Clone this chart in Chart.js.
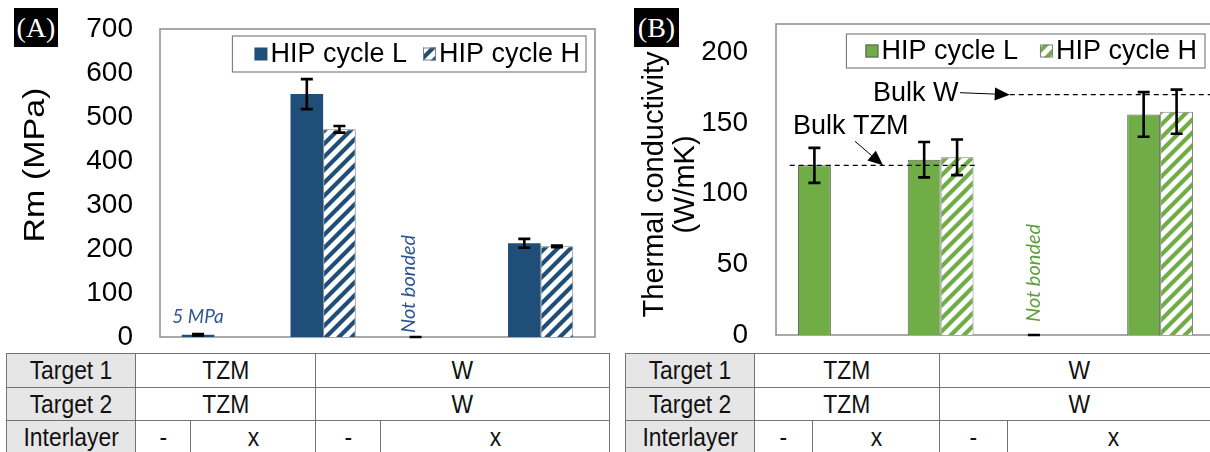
<!DOCTYPE html>
<html><head><meta charset="utf-8">
<script src="https://cdn.jsdelivr.net/npm/chart.js@4/dist/chart.umd.min.js"></script>
<style>
html,body{margin:0;padding:0;background:#fff;width:1210px;height:452px;overflow:hidden;position:relative;font-family:"Liberation Sans",Arial,sans-serif;}
.tag{position:absolute;top:8px;height:39px;background:#000;color:#fff;font-family:"Liberation Serif","Times New Roman",serif;font-size:28px;line-height:39px;text-align:center;}
canvas{position:absolute;top:0;}
table{position:absolute;top:353px;border-collapse:collapse;table-layout:fixed;}
tr{height:33.5px;}
td{border:1px solid #747474;padding:0;text-align:center;font-size:26px;line-height:26px;color:#111;white-space:nowrap;overflow:hidden;}
td span{display:inline-block;transform:scaleX(0.88);}
td.h{background:#E7E6E6;}
</style></head><body>
<div class="tag" style="left:14px;width:44px;">(A)</div>
<div class="tag" style="left:634px;width:45px;">(B)</div>
<canvas id="ca" width="610" height="350" style="left:0;width:610px;height:350px"></canvas>
<canvas id="cb" width="620" height="350" style="left:610px;width:620px;height:350px"></canvas>
<script>
// ---- data ----
const categories = ['TZM / -', 'TZM / x', 'W / -', 'W / x'];
const seriesNames = ['HIP cycle L', 'HIP cycle H'];
const rmL    = [5, 552, 0, 213];
const rmLErr = [1.5, 34, 0, 10];
const rmH    = [null, 472, null, 206];
const rmHErr = [null, 7.5, null, 2];
const tcL    = [120, 124, 0, 156];
const tcLErr = [12.4, 12.5, 0, 15.8];
const tcH    = [null, 125.7, null, 158];
const tcHErr = [null, 12.6, null, 15.6];
const rmTicks = [0, 100, 200, 300, 400, 500, 600, 700];
const tcTicks = [0, 50, 100, 150, 200];
const bulkTZM = 120;
const bulkW = 170;
const rowLabels = ['Target 1', 'Target 2', 'Interlayer'];
const target1 = ['TZM', 'W'];
const target2 = ['TZM', 'W'];
const interlayer = ['-', 'x', '-', 'x'];

const FONT = '"Liberation Sans", Arial, sans-serif';
const NOTE_FONT = 'Lato, "Open Sans", sans-serif';

function hatch(color){
  const s = 13, c = document.createElement('canvas'); c.width = s; c.height = s;
  const x = c.getContext('2d');
  x.fillStyle = '#fff'; x.fillRect(0,0,s,s);
  x.strokeStyle = color; x.lineWidth = 4.2; x.beginPath();
  x.moveTo(0,s); x.lineTo(s,0);
  x.moveTo(-s/2,s/2); x.lineTo(s/2,-s/2);
  x.moveTo(s/2,s*1.5); x.lineTo(s*1.5,s/2);
  x.stroke();
  return x.createPattern(c,'repeat');
}

const frame = {id:'frame', beforeDatasetsDraw(chart){
  const {ctx, chartArea:ca} = chart;
  ctx.save(); ctx.strokeStyle = '#8c8c8c'; ctx.lineWidth = 1.5;
  ctx.strokeRect(ca.left, ca.top, ca.right-ca.left, ca.bottom-ca.top);
  ctx.restore();
}};

const errorBars = {id:'errorBars', afterDatasetsDraw(chart){
  const {ctx} = chart; const y = chart.scales.y;
  ctx.save(); ctx.strokeStyle = '#000'; ctx.lineWidth = 2.6;
  chart.data.datasets.forEach((d, di) => {
    const meta = chart.getDatasetMeta(di);
    d.data.forEach((v, i) => {
      const e = d.errors[i];
      if (v == null || e == null) return;
      const x = meta.data[i].x;
      const yt = y.getPixelForValue(v + e), yb = y.getPixelForValue(v - e);
      ctx.beginPath();
      ctx.moveTo(x, yt); ctx.lineTo(x, yb);
      ctx.moveTo(x-6, yt); ctx.lineTo(x+6, yt);
      ctx.moveTo(x-6, yb); ctx.lineTo(x+6, yb);
      ctx.stroke();
    });
  });
  ctx.restore();
}};

const boxLegend = {id:'boxLegend', afterDraw(chart, args, o){
  const {ctx, chartArea:ca} = chart;
  ctx.save(); ctx.font = '27px ' + FONT;
  const sw = 13, ds = chart.data.datasets;
  let w = o.padL + o.padR;
  ds.forEach((d,i) => { w += sw + o.gapT + ctx.measureText(d.label).width; if (i) w += o.gapI; });
  const right = ca.right - o.dr, left = right - w, top = ca.top + o.dt, h = o.h;
  ctx.fillStyle = '#fff'; ctx.fillRect(left, top, w, h);
  ctx.strokeStyle = '#808080'; ctx.lineWidth = 1.2; ctx.strokeRect(left, top, w, h);
  let x = left + o.padL; const cy = top + h/2;
  ds.forEach((d,i) => {
    if (i) x += o.gapI;
    ctx.fillStyle = d.backgroundColor; ctx.fillRect(x, cy-6.5, sw, sw);
    if (d.borderWidth) { ctx.strokeStyle = d.borderColor; ctx.lineWidth = 1; ctx.strokeRect(x+.5, cy-6, sw-1, sw-1); }
    x += sw + o.gapT;
    ctx.fillStyle = '#000'; ctx.textBaseline = 'middle'; ctx.textAlign = 'left';
    ctx.fillText(d.label, x, cy + 1);
    x += ctx.measureText(d.label).width;
  });
  ctx.restore();
}};

const axisTitle = {id:'axisTitle', afterDraw(chart, args, o){
  const {ctx, chartArea:ca} = chart;
  ctx.save(); ctx.fillStyle = '#000'; ctx.font = o.size + 'px ' + FONT;
  ctx.textAlign = 'center'; ctx.textBaseline = 'middle';
  o.lines.forEach((t, i) => {
    ctx.save();
    ctx.translate(ca.left - o.dx + i*o.lh, (ca.top+ca.bottom)/2 + o.dy);
    ctx.rotate(-Math.PI/2);
    ctx.scale(1, o.sy);
    ctx.fillText(t, 0, 0);
    ctx.restore();
  });
  ctx.restore();
}};

const notes = {id:'notes', afterDatasetsDraw(chart, args, o){
  const {ctx} = chart; const y = chart.scales.y;
  const meta = chart.getDatasetMeta(0);
  ctx.save(); ctx.fillStyle = o.color;
  o.items.forEach(n => {
    const bx = meta.data[n.index].x;
    const base = y.getPixelForValue(0);
    ctx.font = 'italic ' + n.size + 'px ' + NOTE_FONT;
    if (n.rotate) {
      ctx.save(); ctx.translate(bx + n.dx, base - n.gap); ctx.rotate(-Math.PI/2);
      ctx.textAlign = 'left'; ctx.textBaseline = 'middle'; ctx.fillText(n.text, 0, 0);
      ctx.restore();
    } else {
      ctx.textAlign = 'center'; ctx.textBaseline = 'alphabetic';
      ctx.fillText(n.text, bx + n.dx, base - n.gap);
    }
  });
  ctx.restore();
}};

function arrow(ctx, x1, y1, x2, y2){
  const a = Math.atan2(y2-y1, x2-x1), L = 15, W = 6.5;
  const bx = x2 - L*Math.cos(a), by = y2 - L*Math.sin(a);
  ctx.beginPath(); ctx.moveTo(x1, y1); ctx.lineTo(bx, by); ctx.lineWidth = 1; ctx.stroke();
  ctx.beginPath(); ctx.moveTo(x2, y2);
  ctx.lineTo(bx + W*Math.sin(a), by - W*Math.cos(a));
  ctx.lineTo(bx - W*Math.sin(a), by + W*Math.cos(a));
  ctx.closePath(); ctx.fill();
}

const bulk = {id:'bulk', afterDatasetsDraw(chart, args, o){
  const {ctx, chartArea:ca} = chart; const x = chart.scales.x, y = chart.scales.y;
  ctx.save(); ctx.strokeStyle = '#000'; ctx.fillStyle = '#000';
  o.items.forEach(b => {
    const ly = y.getPixelForValue(b.value);
    const x0 = x.getPixelForValue(b.from), x1 = b.to == null ? ca.right : x.getPixelForValue(b.to);
    ctx.setLineDash([5,4]); ctx.lineWidth = 1.3;
    ctx.beginPath(); ctx.moveTo(x0, ly); ctx.lineTo(x1, ly); ctx.stroke();
    ctx.setLineDash([]);
    arrow(ctx, x.getPixelForValue(b.a0[0]), y.getPixelForValue(b.a0[1]), x.getPixelForValue(b.a1), ly);
    ctx.font = '27px ' + FONT; ctx.textAlign = 'left'; ctx.textBaseline = 'alphabetic';
    ctx.fillText(b.label, x.getPixelForValue(b.tx[0]), y.getPixelForValue(b.tx[1]));
  });
  ctx.restore();
}};

function makeChart(id, o){
  return new Chart(document.getElementById(id), {
    type: 'bar',
    data: {labels: categories, datasets: [
      {label: seriesNames[0], data: o.L, errors: o.LErr, backgroundColor: o.color, borderColor: o.lBorder, borderWidth: o.lBorderW},
      {label: seriesNames[1], data: o.H, errors: o.HErr, backgroundColor: hatch(o.color), borderColor: '#7f7f7f', borderWidth: 1}
    ]},
    options: {
      responsive: false, maintainAspectRatio: false, animation: false, devicePixelRatio: 1,
      layout: {padding: {left: 0, top: o.padTop, right: o.padRight, bottom: o.padBottom}},
      datasets: {bar: {categoryPercentage: 0.6, barPercentage: 1}},
      plugins: {legend: {display: false}, tooltip: {enabled: false},
        boxLegend: o.legend, axisTitle: o.title, notes: o.notes, bulk: o.bulk || {items: []}},
      scales: {
        x: {display: false},
        y: {min: 0, max: o.max,
          afterFit(s){ s.width = o.axisW; s.paddingTop = 0; s.paddingBottom = 0; },
          afterBuildTicks(s){ s.ticks = o.ticks.map(v => ({value: v})); },
          grid: {display: false, drawTicks: false}, border: {display: false},
          ticks: {padding: o.tickPad, color: '#000', font: {family: FONT, size: 28}}}
      }
    },
    plugins: [frame, errorBars, notes, bulk, boxLegend, axisTitle]
  });
}

makeChart('ca', {
  L: rmL, LErr: rmLErr, H: rmH, HErr: rmHErr, color: '#1F4E79', lBorder: '#1F4E79', lBorderW: 0,
  padTop: 29, padRight: 15, padBottom: 13, axisW: 160, tickPad: 27, max: 700, ticks: rmTicks,
  legend: {padL: 22, padR: 6, gapT: 3, gapI: 16, dr: 9, dt: 7, h: 36},
  title: {lines: ['Rm (MPa)'], size: 34, sy: 0.86, dx: 124, dy: -18, lh: 0},
  notes: {color: '#2E5596', items: [
    {index: 0, text: '5 MPa', size: 19, rotate: false, dx: 0, gap: 14},
    {index: 2, text: 'Not bonded', size: 20, rotate: true, dx: -7, gap: 4}]}
});

makeChart('cb', {
  L: tcL, LErr: tcLErr, H: tcH, HErr: tcHErr, color: '#70AD47', lBorder: '#5f5f5f', lBorderW: 1,
  padTop: 24, padRight: 15, padBottom: 15, axisW: 166, tickPad: 28, max: 220, ticks: tcTicks,
  legend: {padL: 19, padR: 8, gapT: 3, gapI: 22, dr: 10, dt: 10, h: 34},
  title: {lines: ['Thermal conductivity', '(W/mK)'], size: 29, sy: 1, dx: 121, dy: 5, lh: 31},
  notes: {color: '#5E9E3C', items: [
    {index: 2, text: 'Not bonded', size: 20, rotate: true, dx: 0, gap: 13}]},
  bulk: {items: [
    {value: bulkTZM, from: -0.375, to: 1.33, a0: [0.22, 137], a1: 0.475, label: 'Bulk TZM', tx: [-0.345, 142.5]},
    {value: bulkW, from: 1.63, to: null, a0: [1.177, 171.4], a1: 1.63, label: 'Bulk W', tx: [0.384, 165.6]}
  ]}
});

function buildTable(left, widths){
  const t = document.createElement('table');
  t.style.left = left + 'px';
  t.style.width = widths.reduce((a,b)=>a+b,0) + 'px';
  let h = '<colgroup>' + widths.map(w => `<col style="width:${w}px">`).join('') + '</colgroup>';
  h += `<tr><td class="h"><span>${rowLabels[0]}</span></td>` + target1.map(v => `<td colspan="2"><span>${v}</span></td>`).join('') + '</tr>';
  h += `<tr><td class="h"><span>${rowLabels[1]}</span></td>` + target2.map(v => `<td colspan="2"><span>${v}</span></td>`).join('') + '</tr>';
  h += `<tr><td class="h"><span>${rowLabels[2]}</span></td>` + interlayer.map(v => `<td><span>${v}</span></td>`).join('') + '</tr>';
  t.innerHTML = h;
  document.body.appendChild(t);
}
buildTable(6, [129, 55, 125, 65, 229]);
buildTable(625, [129, 58, 127, 68, 212]);
</script>
</body></html>
